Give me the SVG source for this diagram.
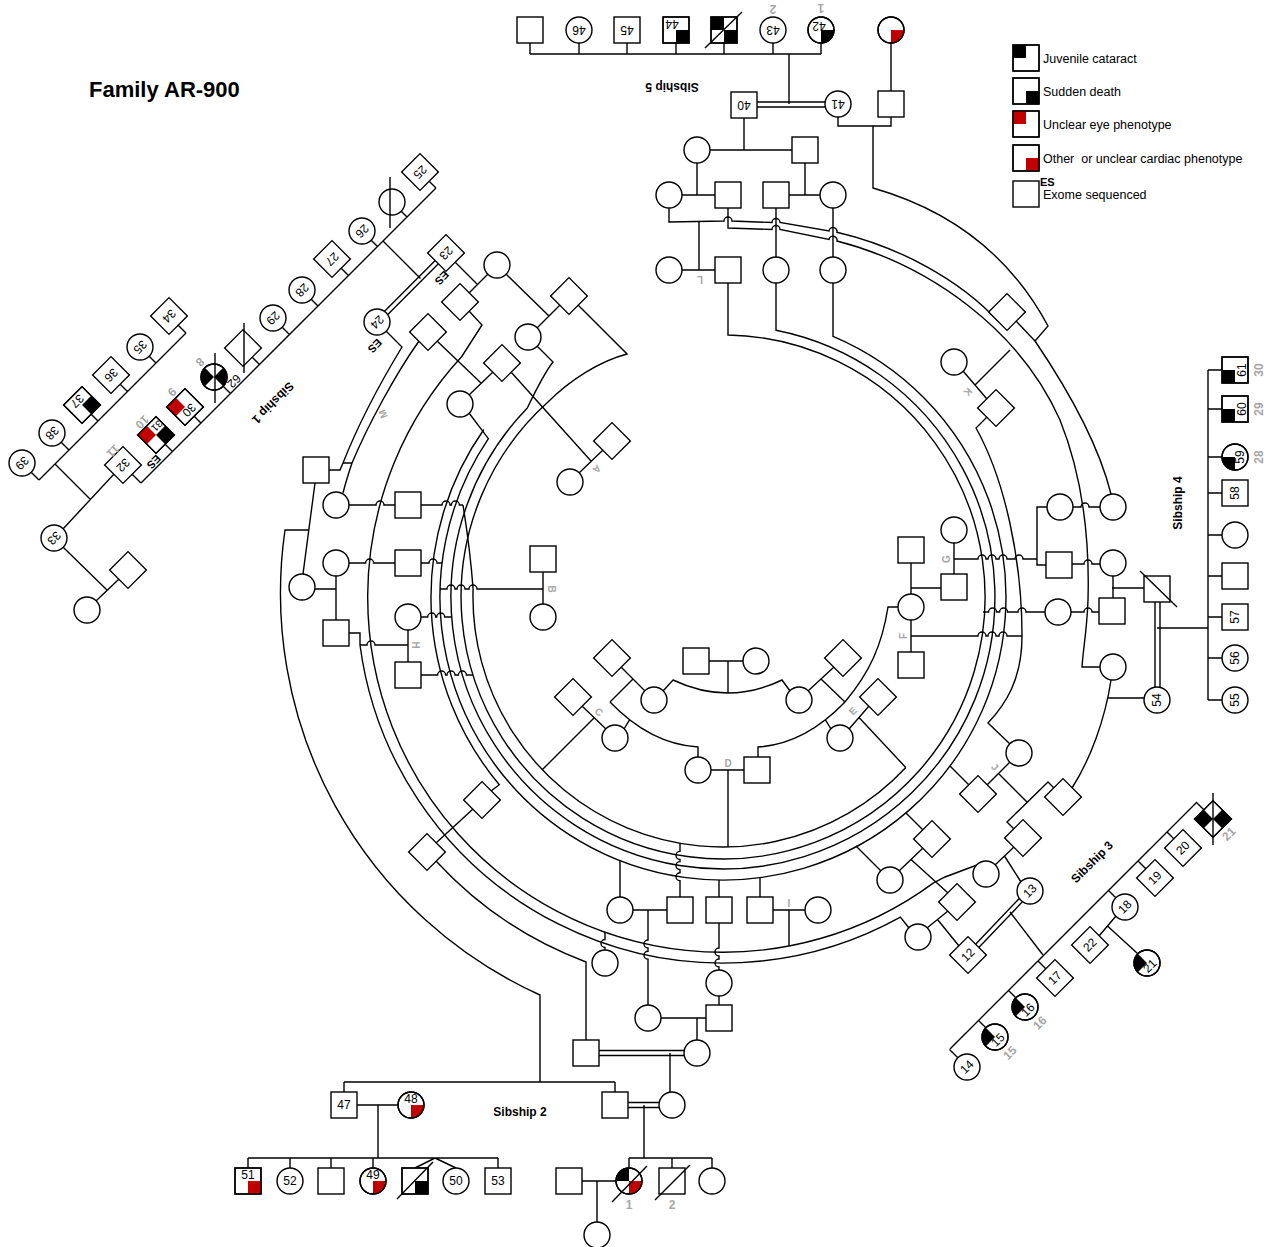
<svg xmlns="http://www.w3.org/2000/svg" width="1268" height="1247" viewBox="0 0 1268 1247">
<style>
.n{fill:#fff;stroke:#000;stroke-width:1.4}
.o{fill:none;stroke:#000;stroke-width:1.4}
.l{fill:none;stroke:#000;stroke-width:1.4}
.b{fill:#000}
.r{fill:#c00000}
.t{font-family:"Liberation Sans",Arial,sans-serif;font-size:12px;fill:#000;text-anchor:middle;dominant-baseline:central}
.g{font-family:"Liberation Sans",Arial,sans-serif;font-size:12px;font-weight:bold;fill:#a6a6a6;text-anchor:middle;dominant-baseline:central}
.s{font-family:"Liberation Sans",Arial,sans-serif;font-size:12px;font-weight:bold;fill:#000;text-anchor:middle;dominant-baseline:central}
.lg{font-family:"Liberation Sans",Arial,sans-serif;font-size:12.5px;fill:#000}
</style>
<rect width="1268" height="1247" fill="#fff"/>
<text x="89" y="97" style="font-family:'Liberation Sans',Arial,sans-serif;font-size:22px;font-weight:bold">Family AR-900</text>

<g id="legend">
<rect class="n" x="1013" y="45" width="26" height="26"/><rect class="b" x="1013" y="45" width="13" height="13"/><rect class="o" x="1013" y="45" width="26" height="26"/>
<text class="lg" x="1043" y="63">Juvenile cataract</text>
<rect class="n" x="1013" y="78" width="26" height="26"/><rect class="b" x="1026" y="91" width="13" height="13"/><rect class="o" x="1013" y="78" width="26" height="26"/>
<text class="lg" x="1043" y="96">Sudden death</text>
<rect class="n" x="1013" y="111" width="26" height="26"/><rect class="r" x="1013" y="111" width="13" height="13"/><rect class="o" x="1013" y="111" width="26" height="26"/>
<text class="lg" x="1043" y="129">Unclear eye phenotype</text>
<rect class="n" x="1013" y="145" width="26" height="26"/><rect class="r" x="1026" y="158" width="13" height="13"/><rect class="o" x="1013" y="145" width="26" height="26"/>
<text class="lg" x="1043" y="163" xml:space="preserve">Other  or unclear cardiac phenotype</text>
<rect class="n" x="1013" y="181" width="26" height="26"/>
<text x="1040" y="186" style="font-family:'Liberation Sans',Arial,sans-serif;font-size:11px;font-weight:bold">ES</text>
<text class="lg" x="1043" y="199">Exome sequenced</text>
</g>

<g id="connectors">
<path class="l" d="M530,43V54M579,43V54M627,43V54M676,43V54M724,43V54M773,43V54M821,43V54M530,54H821M789,54V104M757,102H825M757,107H825M891,43V91M838,117V126H891V117"/>
<path class="l" d="M873,126V188C950,210 1010,255 1048,326L1035,341C1075,400 1100,450 1111,494"/>
<path class="l" d="M744,118V150M710,150H792M697,163V195M682,195H715M805,163V195M789,195H820M682,270H715M699,221V270M776,208V257M833,208V257"/>
<path class="l" d="M669,208V222L724,221a4,4 0 0 1 8,0L772,222.5a4,4 0 0 1 8,0L829,231a4,4 0 0 1 8,1.2C900,247 960,280 998,321"/>
<path class="l" d="M728,208V228L772,229.5a4,4 0 0 1 8,0L829,239.5a4,4 0 0 1 8,1.5C930,265 1020,330 1060,420C1080,470 1090,530 1088,600C1087,630 1083,650 1082,667H1100"/>
<path class="l" d="M1016,321L1035,341"/>
<path class="l" d="M728,283V335A262,262 0 1 1 547.7,402.3C570,380 600,361 627,354L578,305"/>
<path class="l" d="M776,283V330.2A272,272 0 1 1 527.3,408C535,392 545,372 553,362L537,346"/>
<path class="l" d="M833,283V336.3A283,283 0 1 1 488.4,438.7L469,413"/>
<path class="l" d="M463,505C467,530 471,560 473.1,589A250,250 0 0 0 905.8,767.5"/>
<path class="l" d="M483.8,429.5A292,292 0 0 0 499.3,784.7L491,791"/>
<path class="l" d="M469,311L482,325L461.8,356.5A355,355 0 0 0 933.2,883.1L945,877L977,865"/>
<path class="l" d="M349,633H360V645A366,366 0 0 0 900.4,917.1L909,928"/>
<path class="l" d="M436,861A390,390 0 0 0 586,962V1040"/>
<path class="l" d="M309,530H285A441,441 0 0 0 540,995V1082"/>
<path class="l" d="M386,331L402,347C385,375 360,420 343,463L340,470H329M419,341C395,375 368,425 352,463C348,475 345,485 343,493M343,463H352"/>
<path class="l" d="M315,483L303,574M349,505H376a4,4 0 0 1 8,0H395M421,505H442a4,4 0 0 1 8,0H451.4a4,4 0 0 1 8,0H463M349,563H365.6a4,4 0 0 1 8,0H395M421,563H429a4,4 0 0 1 8,0H442M336,576V620M336,589H315M421,617H427.7a4,4 0 0 1 8,0H436.7a4,4 0 0 1 8,0H452M408,630V662M408,645H375a4,4 0 0 0 -8,0H360M421,675H437.6a4,4 0 0 1 8,0H447a4,4 0 0 1 8,0H458.4a4,4 0 0 1 8,0H473M440,589H447a4,4 0 0 1 8,0H457a4,4 0 0 1 8,0H469a4,4 0 0 1 8,0H543M543,572V604"/>
<path class="l" d="M455,262L477,284M488,274L469,293M506,274L549,316M560,305L537,328M437,341L481,383M493,372L469,395M511,372L591,461M603,450L579,473"/>
<path class="l" d="M438.4,263.8L387.8,314.4M435.2,260.6L384.6,311.2M383,241L420.5,278.5"/>
<path class="l" d="M436,188L141,483M429.2,181.2L436,188M401.2,211.2L407,217M371.2,240.2L377.5,246.5M341.2,268.2L348.5,275.5M311.2,299.2L318,306M282.2,327.2L289.5,334.5M252.2,357.2L259.5,364.5M223.2,386.2L230.5,393.5M194.2,416.2L201,423M165.2,444.2L172.5,451.5M132.2,474.2L141,483"/>
<path class="l" d="M186,333L39,480M178.2,325.2L186,333M149.2,356.2L156,363M120.2,384.2L127.5,391.5M91.2,414.2L98,421M61.2,442.2L69,450M31.2,472.2L39,480M55,464L90,499M113.8,474.2L63.2,528.8M63.2,547.2L107.5,590.5M118.8,579.2L96.2,600.8"/>
<path class="l" d="M633,910H667M648,910V940a4,4 0 0 0 0,8V951.2a4,4 0 0 0 0,8V1005M680,897V880.7a4,4 0 0 1 0,-8V869.6a4,4 0 0 1 0,-8V859.4a4,4 0 0 1 0,-8V843.3M620,897V860.6M719,897V880M719,923V948a4,4 0 0 0 0,8V959a4,4 0 0 0 0,8V970M760,897V877.6M773,910H805M789,910V945.8M605,950V947.5a4,4 0 0 1 0,-8V931.8M719,996V1005M661,1018H706M697,1018V1040M599,1050.5H684M599,1055.5H684M670,1053V1092"/>
<path class="l" d="M711,770H744M728,770V847M709,661H743M728,661V693M663,691L673,680Q728,706 782,680L790,691"/>
<path class="l" d="M621,667L645,691M633,679L610,702M610,702C635,728 665,745 698,747V757M624,729L629.7,719.7M582,706L606,729M594,718L542,770"/>
<path class="l" d="M845,702C820,728 790,745 758,747V757M808,691L834,667M821,679L845,702M898,607H888C882,645 870,672 845,702M831,729L825.3,719.7M869,706L849,729M859,717.5L905.8,767.5"/>
<path class="l" d="M954,543V574M954,559H978a4,4 0 0 1 8,0H988a4,4 0 0 1 8,0H999a4,4 0 0 1 8,0H1015a4,4 0 0 1 8,0H1037M1047,507H1037V565H1046M911,563V594M911,588H941M911,620V652M911,636H978a4,4 0 0 1 8,0H988a4,4 0 0 1 8,0H999a4,4 0 0 1 8,0H1022M1073,507H1081a4,4 0 0 1 8,0H1100M1072,564H1084a4,4 0 0 1 8,0H1100M1071,612H1084a4,4 0 0 1 8,0H1099M1045,612H1026a4,4 0 0 0 -8,0H1007.6a4,4 0 0 0 -8,0H996.6a4,4 0 0 0 -8,0H983M1113,576V598M1112,588H1144M1155,602V687M1160,602V687M1157,628H1208M1111,680C1105,720 1090,760 1072,788M1108,698H1144"/>
<path class="l" d="M987,417L976,428C1005,480 1022,560 1022,636C1022,680 1005,705 988,723L1010,744M963,371L987,399M975,385L1010,350"/>
<path class="l" d="M1010,762L987,785M998.5,773.5L1027,802M1054,788L1048,782L1007,822L1014,829M969,785L950,766M923,830L906,813M923,848L899,871M911,859.5L948,893M881,871L856,846M995,865L1014,847M1004.5,856L1021,882M1022.4,901.8L978.8,947.4M1019.2,898.6L975.6,944.2M1010,912L1043,955M948,911L927,928M937.5,919.5L959,946"/>
<path class="l" d="M1197,802L950,1049M1196.5,802.5L1203.8,809.8M1167,832L1173.8,838.8M1138,861L1145.8,868.8M1108.5,890.5L1115.8,897.8M1038,961L1045.8,968.8M1008.5,990.5L1015.8,997.8M978.5,1020.5L985.8,1027.8M949.5,1049.5L957.8,1057.8M1115.8,916.2L1099.2,935.8M1107.5,926L1137.8,953.8"/>
<path class="l" d="M473,809L436,843"/>
<path class="l" d="M344,1082H615M344,1082V1092M615,1082V1092M357,1105H398M378,1105V1158M248,1158H498M248,1158V1168M290,1158V1168M331,1158V1168M373,1158V1168M435,1158L415,1168M435,1158L456,1168M498,1158V1168M628,1102.5H659M628,1107.5H659M644,1105V1158M629,1158H712M629,1158V1168M672,1158V1168M712,1158V1168M582,1181H616M597,1181V1222"/>
<path class="l" d="M1208,370V700M1208,370H1222M1208,409H1222M1208,457H1222M1208,493H1222M1208,535H1222M1208,576H1222M1208,617H1222M1208,658H1222M1208,700H1222"/>
</g>

<g id="sibship5">
<g id="n_s5a"><rect class="n" x="517" y="17" width="26" height="26"/></g>
<g id="n46"><circle class="n" cx="579" cy="30" r="13"/><text class="t" transform="rotate(180 579 30)" x="579" y="30">46</text></g>
<g id="n45"><rect class="n" x="614" y="17" width="26" height="26"/><text class="t" transform="rotate(180 627 30)" x="627" y="30">45</text></g>
<g id="n44"><rect class="n" x="663" y="17" width="26" height="26"/><rect class="b" x="676" y="30" width="13" height="13"/><rect class="o" x="663" y="17" width="26" height="26"/><text class="t" transform="rotate(180 672 24)" x="672" y="24">44</text></g>
<g id="n_s5chk"><rect class="n" x="711" y="17" width="26" height="26"/><rect class="b" x="711" y="17" width="13" height="13"/><rect class="b" x="724" y="30" width="13" height="13"/><rect class="o" x="711" y="17" width="26" height="26"/><path class="l" d="M705,48L742,12"/></g>
<g id="n43"><circle class="n" cx="773" cy="30" r="13"/><text class="t" transform="rotate(180 773 30)" x="773" y="30">43</text><text class="g" transform="rotate(180 773 9)" x="773" y="9">2</text></g>
<g id="n42"><circle class="n" cx="821" cy="30" r="13"/><path class="b" d="M821,30h13A13,13 0 0 1 821,43Z"/><circle class="o" cx="821" cy="30" r="13"/><text class="t" transform="rotate(180 819 26)" x="819" y="26">42</text><text class="g" transform="rotate(180 821 8)" x="821" y="8">1</text></g>
<g id="n_s5red"><circle class="n" cx="891" cy="30" r="13"/><path class="r" d="M891,30h13A13,13 0 0 1 891,43Z"/><circle class="o" cx="891" cy="30" r="13"/></g>
<g id="n40"><rect class="n" x="731" y="92" width="26" height="26"/><text class="t" transform="rotate(180 744 105)" x="744" y="105">40</text></g>
<g id="n41"><circle class="n" cx="838" cy="104" r="13"/><text class="t" transform="rotate(180 838 104)" x="838" y="104">41</text></g>
<g id="n_s5b"><rect class="n" x="878" y="91" width="26" height="26"/></g>
<text class="s" transform="rotate(180 672 87)" x="672" y="87">Sibship 5</text>
</g>

<g id="topcluster">
<g id="n_t1"><circle class="n" cx="697" cy="150" r="13"/></g>
<g id="n_t2"><rect class="n" x="792" y="137" width="26" height="26"/></g>
<g id="n_t3"><circle class="n" cx="669" cy="195" r="13"/></g>
<g id="n_t4"><rect class="n" x="715" y="182" width="26" height="26"/></g>
<g id="n_t5"><rect class="n" x="763" y="182" width="26" height="26"/></g>
<g id="n_t6"><circle class="n" cx="833" cy="195" r="13"/></g>
<g id="n_t7"><circle class="n" cx="669" cy="270" r="13"/></g>
<g id="n_t8"><rect class="n" x="715" y="257" width="26" height="26"/></g>
<g id="n_t9"><circle class="n" cx="776" cy="270" r="13"/></g>
<g id="n_t10"><circle class="n" cx="833" cy="270" r="13"/></g>
<text class="g" transform="rotate(180 700 279)" x="700" y="279" style="font-size:10px">L</text>
</g>

<g id="rightcluster">
<g id="n_r0"><rect class="n" x="-13" y="-13" width="26" height="26" transform="translate(1007 312) rotate(45)"/></g>
<g id="n_k1"><circle class="n" cx="954" cy="362" r="13"/></g>
<g id="n_k2"><rect class="n" x="-13" y="-13" width="26" height="26" transform="translate(996 408) rotate(45)"/></g>
<text class="g" transform="rotate(135 968 392)" x="968" y="392" style="font-size:10px">K</text>
<g id="n_r1"><circle class="n" cx="1060" cy="507" r="13"/></g>
<g id="n_r2"><circle class="n" cx="1113" cy="507" r="13"/></g>
<g id="n_r3"><rect class="n" x="1046" y="552" width="26" height="26"/></g>
<g id="n_r4"><circle class="n" cx="1113" cy="563" r="13"/></g>
<g id="n_r5"><circle class="n" cx="1058" cy="612" r="13"/></g>
<g id="n_r6"><rect class="n" x="1099" y="598" width="26" height="26"/></g>
<g id="n_r7"><circle class="n" cx="1113" cy="667" r="13"/></g>
<g id="n_g1"><circle class="n" cx="954" cy="530" r="13"/></g>
<g id="n_g2"><rect class="n" x="941" y="574" width="26" height="26"/></g>
<text class="g" transform="rotate(-90 946 559)" x="946" y="559" style="font-size:10px">G</text>
<g id="n_f1"><rect class="n" x="898" y="537" width="26" height="26"/></g>
<g id="n_f2"><circle class="n" cx="911" cy="607" r="13"/></g>
<g id="n_f3"><rect class="n" x="898" y="652" width="26" height="26"/></g>
<text class="g" transform="rotate(-90 903 636)" x="903" y="636" style="font-size:10px">F</text>
</g>

<g id="sibship4">
<g id="n_s4p"><rect class="n" x="1144" y="576" width="26" height="26"/><path class="l" d="M1140,571L1177,607"/></g>
<g id="n54"><circle class="n" cx="1157" cy="700" r="13"/><text class="t" transform="rotate(-90 1157 700)" x="1157" y="700">54</text></g>
<g id="n61"><rect class="n" x="1222" y="357" width="26" height="26"/><rect class="b" x="1222" y="370" width="13" height="13"/><rect class="o" x="1222" y="357" width="26" height="26"/><text class="t" transform="rotate(-90 1242 370)" x="1242" y="370">61</text><text class="g" transform="rotate(-90 1259 370)" x="1259" y="370">30</text></g>
<g id="n60"><rect class="n" x="1222" y="396" width="26" height="26"/><rect class="b" x="1222" y="409" width="13" height="13"/><rect class="o" x="1222" y="396" width="26" height="26"/><text class="t" transform="rotate(-90 1242 409)" x="1242" y="409">60</text><text class="g" transform="rotate(-90 1259 409)" x="1259" y="409">29</text></g>
<g id="n59"><circle class="n" cx="1235" cy="457" r="13"/><path class="b" d="M1235,457v13A13,13 0 0 1 1222,457Z"/><circle class="o" cx="1235" cy="457" r="13"/><text class="t" transform="rotate(-90 1240 457)" x="1240" y="457">59</text><text class="g" transform="rotate(-90 1259 457)" x="1259" y="457">28</text></g>
<g id="n58"><rect class="n" x="1222" y="480" width="26" height="26"/><text class="t" transform="rotate(-90 1235 493)" x="1235" y="493">58</text></g>
<g id="n_s4c"><circle class="n" cx="1235" cy="535" r="13"/></g>
<g id="n_s4s"><rect class="n" x="1222" y="563" width="26" height="26"/></g>
<g id="n57"><rect class="n" x="1222" y="604" width="26" height="26"/><text class="t" transform="rotate(-90 1235 617)" x="1235" y="617">57</text></g>
<g id="n56"><circle class="n" cx="1235" cy="658" r="13"/><text class="t" transform="rotate(-90 1235 658)" x="1235" y="658">56</text></g>
<g id="n55"><circle class="n" cx="1235" cy="700" r="13"/><text class="t" transform="rotate(-90 1235 700)" x="1235" y="700">55</text></g>
<text class="s" transform="rotate(-90 1178 503)" x="1178" y="503">Sibship 4</text>
</g>

<g id="centercluster">
<g id="n_e1"><rect class="n" x="-13" y="-13" width="26" height="26" transform="translate(878 697) rotate(45)"/></g>
<g id="n_e2"><circle class="n" cx="840" cy="738" r="13"/></g>
<text class="g" transform="rotate(-45 853 711)" x="853" y="711" style="font-size:10px">E</text>
<g id="n_dr1"><rect class="n" x="-13" y="-13" width="26" height="26" transform="translate(843 658) rotate(45)"/></g>
<g id="n_dr2"><circle class="n" cx="799" cy="700" r="13"/></g>
<g id="n_di1"><rect class="n" x="683" y="648" width="26" height="26"/></g>
<g id="n_di2"><circle class="n" cx="756" cy="661" r="13"/></g>
<g id="n_dl1"><rect class="n" x="-13" y="-13" width="26" height="26" transform="translate(612 658) rotate(45)"/></g>
<g id="n_dl2"><circle class="n" cx="654" cy="700" r="13"/></g>
<g id="n_c1"><rect class="n" x="-13" y="-13" width="26" height="26" transform="translate(573 697) rotate(45)"/></g>
<g id="n_c2"><circle class="n" cx="615" cy="738" r="13"/></g>
<text class="g" transform="rotate(40 599 712)" x="599" y="712" style="font-size:10px">C</text>
<g id="n_d1"><circle class="n" cx="698" cy="770" r="13"/></g>
<g id="n_d2"><rect class="n" x="744" y="757" width="26" height="26"/></g>
<text class="g" x="728" y="763" style="font-size:10px">D</text>
<g id="n_b1"><rect class="n" x="530" y="546" width="26" height="26"/></g>
<g id="n_b2"><circle class="n" cx="543" cy="617" r="13"/></g>
<text class="g" transform="rotate(90 551 589)" x="551" y="589" style="font-size:10px">B</text>
</g>

<g id="jcluster">
<g id="n_j1"><circle class="n" cx="1019" cy="753" r="13"/></g>
<g id="n_j2"><rect class="n" x="-13" y="-13" width="26" height="26" transform="translate(978 794) rotate(45)"/></g>
<text class="g" transform="rotate(45 995 767)" x="995" y="767" style="font-size:10px">J</text>
<g id="n_j3"><rect class="n" x="-13" y="-13" width="26" height="26" transform="translate(1063 797) rotate(45)"/></g>
<g id="n_j4"><rect class="n" x="-13" y="-13" width="26" height="26" transform="translate(932 839) rotate(45)"/></g>
<g id="n_j5"><rect class="n" x="-13" y="-13" width="26" height="26" transform="translate(1023 838) rotate(45)"/></g>
<g id="n_j6"><circle class="n" cx="890" cy="880" r="13"/></g>
<g id="n_j7"><circle class="n" cx="986" cy="874" r="13"/></g>
<g id="n13"><circle class="n" cx="1030" cy="891" r="13"/><text class="t" transform="rotate(-45 1030 891)" x="1030" y="891">13</text></g>
<g id="n_j8"><rect class="n" x="-13" y="-13" width="26" height="26" transform="translate(957 902) rotate(45)"/></g>
<g id="n_j9"><circle class="n" cx="918" cy="937" r="13"/></g>
<g id="n12"><rect class="n" x="-13" y="-13" width="26" height="26" transform="translate(968 955) rotate(45)"/><text class="t" transform="rotate(-45 968 955)" x="968" y="955">12</text></g>
</g>

<g id="sibship3">
<g id="n21a"><rect class="n" x="-13" y="-13" width="26" height="26" transform="translate(1213 819) rotate(45)"/><polygon class="b" points="1194.6,819 1203.8,809.8 1213,819 1203.8,828.2"/><polygon class="b" points="1231.4,819 1222.2,809.8 1213,819 1222.2,828.2"/><rect class="o" x="-13" y="-13" width="26" height="26" transform="translate(1213 819) rotate(45)"/><path class="l" d="M1213,793V845"/><text class="g" transform="rotate(-45 1229 834)" x="1229" y="834">21</text></g>
<g id="n20"><rect class="n" x="-13" y="-13" width="26" height="26" transform="translate(1183 848) rotate(45)"/><text class="t" transform="rotate(-45 1183 848)" x="1183" y="848">20</text></g>
<g id="n19"><rect class="n" x="-13" y="-13" width="26" height="26" transform="translate(1155 878) rotate(45)"/><text class="t" transform="rotate(-45 1155 878)" x="1155" y="878">19</text></g>
<g id="n18"><circle class="n" cx="1125" cy="907" r="13"/><text class="t" transform="rotate(-45 1125 907)" x="1125" y="907">18</text></g>
<g id="n22"><rect class="n" x="-13" y="-13" width="26" height="26" transform="translate(1090 945) rotate(45)"/><text class="t" transform="rotate(-45 1090 945)" x="1090" y="945">22</text></g>
<g id="n21"><circle class="n" cx="1147" cy="963" r="13"/><path class="b" d="M1147,963l-9.19,9.19A13,13 0 0 1 1137.81,953.81Z"/><circle class="o" cx="1147" cy="963" r="13"/><text class="t" transform="rotate(-45 1150 966)" x="1150" y="966">21</text></g>
<g id="n17"><rect class="n" x="-13" y="-13" width="26" height="26" transform="translate(1055 978) rotate(45)"/><text class="t" transform="rotate(-45 1055 978)" x="1055" y="978">17</text></g>
<g id="n16"><circle class="n" cx="1025" cy="1007" r="13"/><path class="b" d="M1025,1007l-9.19,9.19A13,13 0 0 1 1015.81,997.81Z"/><circle class="o" cx="1025" cy="1007" r="13"/><text class="t" transform="rotate(-45 1028 1010)" x="1028" y="1010">16</text><text class="g" transform="rotate(-45 1040 1023)" x="1040" y="1023">16</text></g>
<g id="n15"><circle class="n" cx="995" cy="1037" r="13"/><path class="b" d="M995,1037l-9.19,9.19A13,13 0 0 1 985.81,1027.81Z"/><circle class="o" cx="995" cy="1037" r="13"/><text class="t" transform="rotate(-45 998 1040)" x="998" y="1040">15</text><text class="g" transform="rotate(-45 1010 1053)" x="1010" y="1053">15</text></g>
<g id="n14"><circle class="n" cx="967" cy="1067" r="13"/><text class="t" transform="rotate(-45 967 1067)" x="967" y="1067">14</text></g>
<text class="s" transform="rotate(-45 1092 862)" x="1092" y="862">Sibship 3</text>
</g>

<g id="bottomcluster">
<g id="n_i1"><circle class="n" cx="620" cy="910" r="13"/></g>
<g id="n_i2"><rect class="n" x="667" y="897" width="26" height="26"/></g>
<g id="n_i3"><rect class="n" x="706" y="897" width="26" height="26"/></g>
<g id="n_i4"><rect class="n" x="747" y="897" width="26" height="26"/></g>
<g id="n_i5"><circle class="n" cx="818" cy="910" r="13"/></g>
<text class="g" x="789" y="903" style="font-size:10px">I</text>
<g id="n_b3"><circle class="n" cx="605" cy="963" r="13"/></g>
<g id="n_b4"><circle class="n" cx="648" cy="1018" r="13"/></g>
<g id="n_b5"><circle class="n" cx="719" cy="983" r="13"/></g>
<g id="n_b6"><rect class="n" x="706" y="1005" width="26" height="26"/></g>
<g id="n_b7"><rect class="n" x="573" y="1040" width="26" height="26"/></g>
<g id="n_b8"><circle class="n" cx="697" cy="1053" r="13"/></g>
<g id="n_ll1"><rect class="n" x="-13" y="-13" width="26" height="26" transform="translate(482 800) rotate(45)"/></g>
<g id="n_ll2"><rect class="n" x="-13" y="-13" width="26" height="26" transform="translate(427 852) rotate(45)"/></g>
</g>

<g id="sibship2">
<g id="n47"><rect class="n" x="331" y="1092" width="26" height="26"/><text class="t" x="344" y="1105">47</text></g>
<g id="n48"><circle class="n" cx="411" cy="1105" r="13"/><path class="r" d="M411,1105h13A13,13 0 0 1 411,1118Z"/><circle class="o" cx="411" cy="1105" r="13"/><text class="t" x="411" y="1099">48</text></g>
<g id="n_s2a"><rect class="n" x="602" y="1092" width="26" height="26"/></g>
<g id="n_s2b"><circle class="n" cx="672" cy="1105" r="13"/></g>
<g id="n51"><rect class="n" x="235" y="1168" width="26" height="26"/><rect class="r" x="248" y="1181" width="13" height="13"/><rect class="o" x="235" y="1168" width="26" height="26"/><text class="t" x="248" y="1175">51</text></g>
<g id="n52"><circle class="n" cx="290" cy="1181" r="13"/><text class="t" x="290" y="1181">52</text></g>
<g id="n_s2c"><rect class="n" x="318" y="1168" width="26" height="26"/></g>
<g id="n49"><circle class="n" cx="373" cy="1181" r="13"/><path class="r" d="M373,1181h13A13,13 0 0 1 373,1194Z"/><circle class="o" cx="373" cy="1181" r="13"/><text class="t" x="373" y="1175">49</text></g>
<g id="n_s2d"><rect class="n" x="402" y="1168" width="26" height="26"/><rect class="b" x="415" y="1181" width="13" height="13"/><rect class="o" x="402" y="1168" width="26" height="26"/><path class="l" d="M397,1199L433,1162"/></g>
<g id="n50"><circle class="n" cx="456" cy="1181" r="13"/><text class="t" x="456" y="1181">50</text></g>
<g id="n53"><rect class="n" x="485" y="1168" width="26" height="26"/><text class="t" x="498" y="1181">53</text></g>
<g id="n_s2e"><rect class="n" x="556" y="1168" width="26" height="26"/></g>
<g id="n1"><circle class="n" cx="629" cy="1181" r="13"/><path class="b" d="M629,1181h-13A13,13 0 0 1 629,1168Z"/><path class="r" d="M629,1181h13A13,13 0 0 1 629,1194Z"/><circle class="o" cx="629" cy="1181" r="13"/><path class="l" d="M612,1202L647,1166"/><text class="g" x="629" y="1205">1</text></g>
<g id="n2"><rect class="n" x="659" y="1168" width="26" height="26"/><path class="l" d="M655,1200L690,1165"/><text class="g" x="672" y="1205">2</text></g>
<g id="n_s2f"><circle class="n" cx="712" cy="1181" r="13"/></g>
<g id="n_s2g"><circle class="n" cx="597" cy="1235" r="13"/></g>
<text class="s" x="520" y="1112">Sibship 2</text>
</g>

<g id="leftcluster">
<g id="n_l1"><rect class="n" x="303" y="457" width="26" height="26"/></g>
<g id="n_l2"><circle class="n" cx="302" cy="587" r="13"/></g>
<g id="n_l3"><circle class="n" cx="336" cy="505" r="13"/></g>
<g id="n_l4"><rect class="n" x="395" y="492" width="26" height="26"/></g>
<g id="n_l5"><circle class="n" cx="336" cy="563" r="13"/></g>
<g id="n_l6"><rect class="n" x="395" y="550" width="26" height="26"/></g>
<g id="n_l7"><rect class="n" x="323" y="620" width="26" height="26"/></g>
<g id="n_h1"><circle class="n" cx="408" cy="617" r="13"/></g>
<g id="n_h2"><rect class="n" x="395" y="662" width="26" height="26"/></g>
<text class="g" transform="rotate(90 415 645)" x="415" y="645" style="font-size:10px">H</text>
<text class="g" transform="rotate(-110 383 414)" x="383" y="414" style="font-size:10px">M</text>
</g>

<g id="upperleftcluster">
<g id="n23"><rect class="n" x="-13" y="-13" width="26" height="26" transform="translate(446 253) rotate(45)"/><text class="t" transform="rotate(135 446 253)" x="446" y="253">23</text></g>
<text class="s" transform="rotate(135 442 278)" x="442" y="278" style="font-size:11px">ES</text>
<g id="n24"><circle class="n" cx="377" cy="322" r="13"/><text class="t" transform="rotate(135 377 322)" x="377" y="322">24</text></g>
<text class="s" transform="rotate(135 375 346)" x="375" y="346" style="font-size:11px">ES</text>
<g id="n_u1"><circle class="n" cx="497" cy="265" r="13"/></g>
<g id="n_u2"><rect class="n" x="-13" y="-13" width="26" height="26" transform="translate(460 302) rotate(45)"/></g>
<g id="n_u3"><rect class="n" x="-13" y="-13" width="26" height="26" transform="translate(569 296) rotate(45)"/></g>
<g id="n_u4"><rect class="n" x="-13" y="-13" width="26" height="26" transform="translate(428 332) rotate(45)"/></g>
<g id="n_u5"><circle class="n" cx="528" cy="337" r="13"/></g>
<g id="n_u6"><rect class="n" x="-13" y="-13" width="26" height="26" transform="translate(502 363) rotate(45)"/></g>
<g id="n_u7"><circle class="n" cx="460" cy="404" r="13"/></g>
<g id="n_a1"><rect class="n" x="-13" y="-13" width="26" height="26" transform="translate(612 441) rotate(45)"/></g>
<g id="n_a2"><circle class="n" cx="570" cy="482" r="13"/></g>
<text class="g" transform="rotate(135 597 469)" x="597" y="469" style="font-size:10px">A</text>
</g>

<g id="sibship1">
<g id="n25"><rect class="n" x="-13" y="-13" width="26" height="26" transform="translate(420 172) rotate(45)"/><text class="t" transform="rotate(135 420 172)" x="420" y="172">25</text></g>
<g id="n_p1"><circle class="n" cx="392" cy="202" r="13"/><path class="l" d="M390,177V228"/></g>
<g id="n26"><circle class="n" cx="362" cy="231" r="13"/><text class="t" transform="rotate(135 362 231)" x="362" y="231">26</text></g>
<g id="n27"><rect class="n" x="-13" y="-13" width="26" height="26" transform="translate(332 259) rotate(45)"/><text class="t" transform="rotate(135 332 259)" x="332" y="259">27</text></g>
<g id="n28"><circle class="n" cx="302" cy="290" r="13"/><text class="t" transform="rotate(135 302 290)" x="302" y="290">28</text></g>
<g id="n29"><circle class="n" cx="273" cy="318" r="13"/><text class="t" transform="rotate(135 273 318)" x="273" y="318">29</text></g>
<g id="n_p2"><rect class="n" x="-13" y="-13" width="26" height="26" transform="translate(243 348) rotate(45)"/><path class="l" d="M244,323V373"/></g>
<g id="n8"><circle class="n" cx="214" cy="377" r="13"/><path class="b" d="M214,377l-9.19,9.19A13,13 0 0 1 204.81,367.81Z"/><path class="b" d="M214,377l9.19,-9.19A13,13 0 0 1 223.19,386.19Z"/><circle class="o" cx="214" cy="377" r="13"/><path class="l" d="M215,353V403"/><text class="g" transform="rotate(135 200 362)" x="200" y="362">8</text><text class="t" transform="rotate(135 234 381)" x="234" y="381">62</text></g>
<g id="n30"><rect class="n" x="-13" y="-13" width="26" height="26" transform="translate(185 407) rotate(45)"/><polygon class="r" points="166.6,407 175.8,397.8 185,407 175.8,416.2"/><rect class="o" x="-13" y="-13" width="26" height="26" transform="translate(185 407) rotate(45)"/><text class="t" transform="rotate(135 189 410)" x="189" y="410">30</text><text class="g" transform="rotate(135 172 392)" x="172" y="392">9</text></g>
<g id="n31"><rect class="n" x="-13" y="-13" width="26" height="26" transform="translate(156 435) rotate(45)"/><polygon class="r" points="137.6,435 146.8,425.8 156,435 146.8,444.2"/><polygon class="b" points="174.4,435 165.2,425.8 156,435 165.2,444.2"/><rect class="o" x="-13" y="-13" width="26" height="26" transform="translate(156 435) rotate(45)"/><text class="t" transform="rotate(135 157 426)" x="157" y="426" style="font-size:10px">31</text><text class="g" transform="rotate(135 142 422)" x="142" y="422">10</text></g>
<text class="s" transform="rotate(135 154 462)" x="154" y="462" style="font-size:11px">ES</text>
<g id="n32"><rect class="n" x="-13" y="-13" width="26" height="26" transform="translate(123 465) rotate(45)"/><text class="t" transform="rotate(135 123 465)" x="123" y="465">32</text><text class="g" transform="rotate(135 113 451)" x="113" y="451">11</text></g>
<g id="n34"><rect class="n" x="-13" y="-13" width="26" height="26" transform="translate(169 316) rotate(45)"/><text class="t" transform="rotate(135 169 316)" x="169" y="316">34</text></g>
<g id="n35"><circle class="n" cx="140" cy="347" r="13"/><text class="t" transform="rotate(135 140 347)" x="140" y="347">35</text></g>
<g id="n36"><rect class="n" x="-13" y="-13" width="26" height="26" transform="translate(111 375) rotate(45)"/><text class="t" transform="rotate(135 111 375)" x="111" y="375">36</text></g>
<g id="n37"><rect class="n" x="-13" y="-13" width="26" height="26" transform="translate(82 405) rotate(45)"/><polygon class="b" points="100.4,405 91.2,395.8 82,405 91.2,414.2"/><rect class="o" x="-13" y="-13" width="26" height="26" transform="translate(82 405) rotate(45)"/><text class="t" transform="rotate(135 77 401)" x="77" y="401">37</text></g>
<g id="n38"><circle class="n" cx="52" cy="433" r="13"/><text class="t" transform="rotate(135 52 433)" x="52" y="433">38</text></g>
<g id="n39"><circle class="n" cx="22" cy="463" r="13"/><text class="t" transform="rotate(135 22 463)" x="22" y="463">39</text></g>
<g id="n33"><circle class="n" cx="54" cy="538" r="13"/><text class="t" transform="rotate(135 54 538)" x="54" y="538">33</text></g>
<g id="n_p3"><rect class="n" x="-13" y="-13" width="26" height="26" transform="translate(128 570) rotate(45)"/></g>
<g id="n_p4"><circle class="n" cx="87" cy="610" r="13"/></g>
<text class="s" transform="rotate(135 273 403)" x="273" y="403">Sibship 1</text>
</g>
</svg>
